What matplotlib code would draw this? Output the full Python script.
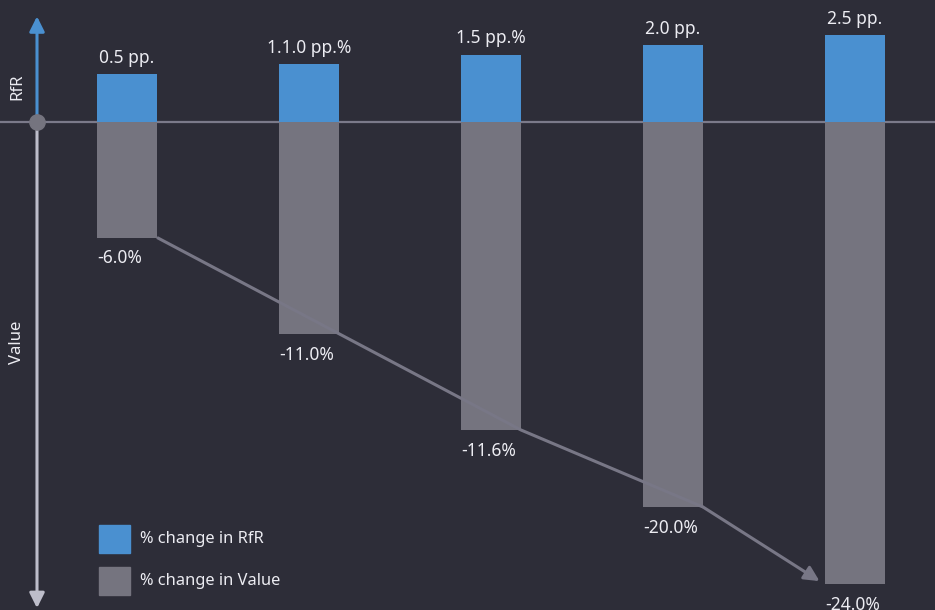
import matplotlib.pyplot as plt
from matplotlib.patches import Rectangle

# data
rfr_heights = [2.5, 3.0, 3.5, 4.0, 4.5]
rfr_labels = ["0.5 pp.", "1.1.0 pp.%", "1.5 pp.%", "2.0 pp.", "2.5 pp."]
value_heights = [-6.0, -11.0, -16.0, -20.0, -24.0]
value_labels = ["-6.0%", "-11.0%", "-11.6%", "-20.0%", "-24.0%"]

bg = "#2d2d38"
blue = "#4a90d0"
grey = "#75747f"
txt = "#ececf2"
U = 19.25  # px per unit

plt.rcParams['font.family'] = ['Noto Sans', 'DejaVu Sans']

fig = plt.figure(figsize=(9.35, 6.1), dpi=100, facecolor=bg)
ax = fig.add_axes([0, 0, 1, 1], facecolor=bg)
ax.set_xlim(-127 / 182, 808 / 182)
ax.set_ylim(-488 / U, 122 / U)
ax.axis("off")

x = list(range(len(rfr_heights)))
w = 60 / 182
ax.bar(x, rfr_heights, width=w, color=blue, zorder=3)
ax.bar(x, value_heights, width=w, color=grey, zorder=3)

for i in x:
    ax.text(i, rfr_heights[i] + 0.38, rfr_labels[i], ha="center", va="bottom",
            color=txt, fontsize=12.5)
    ax.text(i - w / 2, value_heights[i] - 0.62, value_labels[i], ha="left", va="top",
            color=txt, fontsize=12.5)

# zero line
ax.axhline(0, color="#7b7a8a", lw=1.6, zorder=2)

# connecting line with arrow
lx = [i + w / 2 for i in x[:-1]]
ly = value_heights[:-1]
ax.plot(lx, ly, color="#787786", lw=2.2, zorder=4, solid_capstyle="butt")
ax.annotate("", xy=(x[-1] - w / 2 - 0.03, value_heights[-1] + 0.15), xytext=(lx[-1], ly[-1]),
            arrowprops=dict(arrowstyle="-|>,head_length=0.9,head_width=0.45",
                            color="#787786", lw=2.2, shrinkA=0, shrinkB=0), zorder=4)

# vertical axis
ax0 = -90 / 182
ax.annotate("", xy=(ax0, 122 / U - 0.85), xytext=(ax0, 0),
            arrowprops=dict(arrowstyle="-|>,head_length=0.9,head_width=0.45",
                            color=blue, lw=2.2, shrinkA=0, shrinkB=0), zorder=5)
ax.annotate("", xy=(ax0, -488 / U + 0.1), xytext=(ax0, 0),
            arrowprops=dict(arrowstyle="-|>,head_length=0.9,head_width=0.45",
                            color="#bdbdca", lw=2.2, shrinkA=0, shrinkB=0), zorder=5)
ax.plot([ax0], [0], "o", color="#75747f", ms=11, zorder=6)

ax.text(-110 / 182, 35 / U, "RfR", rotation=90, ha="center", va="center",
        color=txt, fontsize=12)
ax.text(-110 / 182, -220 / U, "Value", rotation=90, ha="center", va="center",
        color=txt, fontsize=12)

# legend
for k, (c, lab) in enumerate([(blue, "% change in RfR"), (grey, "% change in Value")]):
    top = -(525 - 122) / U - k * 42 / U
    ax.add_patch(Rectangle((-28 / 182, top - 28 / U), 31 / 182, 28 / U,
                           color=c, zorder=3))
    ax.text(13 / 182, top - 14 / U, lab, ha="left", va="center", color=txt,
            fontsize=11.8)

fig.savefig("out.png", dpi=100, facecolor=bg)
